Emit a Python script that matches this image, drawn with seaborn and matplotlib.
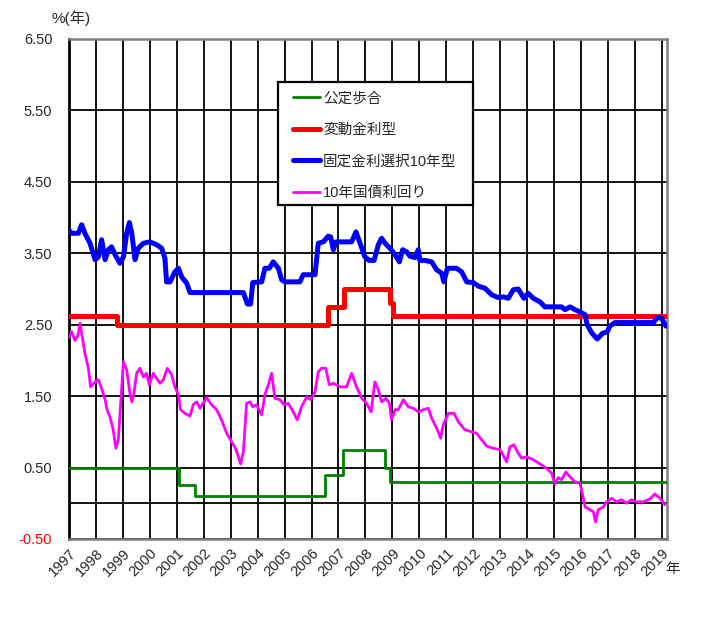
import matplotlib
matplotlib.use("Agg")
import matplotlib.pyplot as plt
from matplotlib.patches import Rectangle
import seaborn as sns
import pandas as pd

# ---------------- data ----------------
years = list(range(1997, 2020))
year_labels = [str(y) for y in years]
ytick_values = [-0.5, 0.5, 1.5, 2.5, 3.5, 4.5, 5.5, 6.5]
ytick_labels = ["-0.50", "0.50", "1.50", "2.50", "3.50", "4.50", "5.50", "6.50"]

# 公定歩合 (step changes)
discount_x = [1997.0, 2001.08, 2001.68, 2006.50, 2007.17, 2008.72, 2008.92, 2019.18]
discount_y = [0.50, 0.25, 0.10, 0.40, 0.75, 0.50, 0.30, 0.30]

# 変動金利型 (step changes)
variable_x = [1997.0, 1998.78, 2006.60, 2007.22, 2008.92, 2009.02, 2019.18]
variable_y = [2.625, 2.50, 2.75, 3.00, 2.80, 2.625, 2.625]

# 固定金利選択10年型
fixed_x = [1997.0, 1997.10, 1997.22, 1997.35, 1997.47, 1997.59, 1997.78, 1997.97, 1998.09,
           1998.21, 1998.34, 1998.46, 1998.58, 1998.71, 1998.89, 1999.02, 1999.14, 1999.24,
           1999.33, 1999.45, 1999.57, 1999.76, 2000.00, 2000.25, 2000.44, 2000.56, 2000.62,
           2000.75, 2000.93, 2001.06, 2001.18, 2001.37, 2001.49, 2003.47, 2003.62, 2003.74,
           2003.82, 2004.15, 2004.27, 2004.43, 2004.58, 2004.77, 2004.89, 2005.01, 2005.57,
           2005.69, 2006.13, 2006.25, 2006.44, 2006.62, 2006.71, 2006.81, 2006.91, 2007.49,
           2007.65, 2007.80, 2007.98, 2008.14, 2008.32, 2008.48, 2008.60, 2008.73, 2008.91,
           2009.10, 2009.26, 2009.38, 2009.53, 2009.65, 2009.84, 2009.96, 2010.02, 2010.21,
           2010.46, 2010.64, 2010.83, 2010.91, 2011.04, 2011.38, 2011.57, 2011.76, 2012.00,
           2012.19, 2012.44, 2012.68, 2012.93, 2013.12, 2013.30, 2013.49, 2013.67, 2013.88,
           2014.04, 2014.23, 2014.48, 2014.66, 2015.28, 2015.41, 2015.59, 2015.78, 2015.96,
           2016.15, 2016.23, 2016.39, 2016.60, 2016.80, 2016.97, 2017.07, 2017.26, 2018.68,
           2018.83, 2018.99, 2019.15]
fixed_y = [3.82, 3.78, 3.78, 3.78, 3.90, 3.78, 3.64, 3.41, 3.45,
           3.69, 3.41, 3.55, 3.59, 3.48, 3.36, 3.45, 3.78, 3.93,
           3.78, 3.41, 3.57, 3.64, 3.66, 3.62, 3.57, 3.43, 3.10,
           3.10, 3.24, 3.29, 3.17, 3.08, 2.95, 2.95, 2.79, 2.79,
           3.09, 3.10, 3.29, 3.29, 3.38, 3.29, 3.13, 3.10, 3.10,
           3.20, 3.20, 3.64, 3.66, 3.74, 3.73, 3.55, 3.66, 3.66,
           3.80, 3.64, 3.45, 3.40, 3.40, 3.62, 3.71, 3.64, 3.57,
           3.48, 3.38, 3.55, 3.52, 3.46, 3.44, 3.55, 3.40, 3.40,
           3.38, 3.27, 3.22, 3.10, 3.29, 3.29, 3.24, 3.10, 3.09,
           3.04, 3.01, 2.92, 2.88, 2.89, 2.87, 2.99, 3.00, 2.87,
           2.94, 2.87, 2.82, 2.75, 2.75, 2.71, 2.75, 2.71, 2.68,
           2.64, 2.50, 2.39, 2.30, 2.38, 2.40, 2.48, 2.53, 2.53,
           2.60, 2.59, 2.48]

# 10年国債利回り
jgb_x = [1997.0, 1997.10, 1997.22, 1997.33, 1997.41, 1997.47, 1997.59, 1997.72, 1997.80,
         1997.97, 1998.09, 1998.21, 1998.34, 1998.42, 1998.52, 1998.64, 1998.74, 1998.83,
         1998.92, 1999.02, 1999.14, 1999.26, 1999.33, 1999.41, 1999.51, 1999.63, 1999.76,
         1999.88, 1999.98, 2000.13, 2000.25, 2000.38, 2000.50, 2000.65, 2000.81, 2000.93,
         2001.06, 2001.14, 2001.30, 2001.49, 2001.61, 2001.74, 2001.86, 2002.11, 2002.29,
         2002.48, 2002.66, 2002.85, 2003.04, 2003.20, 2003.37, 2003.47, 2003.59, 2003.72,
         2003.82, 2003.96, 2004.15, 2004.27, 2004.40, 2004.52, 2004.64, 2004.83, 2004.98,
         2005.14, 2005.32, 2005.47, 2005.63, 2005.82, 2005.97, 2006.13, 2006.25, 2006.37,
         2006.53, 2006.66, 2006.81, 2007.06, 2007.30, 2007.49, 2007.67, 2007.86, 2008.04,
         2008.21, 2008.35, 2008.48, 2008.60, 2008.76, 2008.89, 2008.97, 2009.10, 2009.22,
         2009.41, 2009.59, 2009.78, 2009.96, 2010.15, 2010.33, 2010.46, 2010.67, 2010.79,
         2010.89, 2011.08, 2011.29, 2011.45, 2011.69, 2011.94, 2012.13, 2012.31, 2012.50,
         2012.75, 2013.00, 2013.14, 2013.24, 2013.36, 2013.51, 2013.67, 2013.80, 2013.98,
         2014.23, 2014.48, 2014.72, 2014.91, 2015.03, 2015.16, 2015.28, 2015.44, 2015.59,
         2015.78, 2015.96, 2016.06, 2016.15, 2016.33, 2016.46, 2016.54, 2016.64, 2016.83,
         2016.95, 2017.14, 2017.32, 2017.51, 2017.69, 2017.88, 2018.06, 2018.31, 2018.56,
         2018.74, 2018.93, 2019.11]
jgb_y = [2.32, 2.40, 2.28, 2.35, 2.52, 2.38, 2.10, 1.89, 1.63,
         1.70, 1.73, 1.61, 1.45, 1.30, 1.21, 1.03, 0.77, 0.89,
         1.40, 1.98, 1.87, 1.54, 1.42, 1.54, 1.82, 1.89, 1.77,
         1.82, 1.66, 1.82, 1.75, 1.68, 1.73, 1.89, 1.80, 1.63,
         1.52, 1.31, 1.26, 1.22, 1.38, 1.42, 1.33, 1.48, 1.38,
         1.31, 1.17, 0.98, 0.86, 0.75, 0.55, 0.72, 1.40, 1.42,
         1.35, 1.38, 1.24, 1.52, 1.66, 1.82, 1.47, 1.45, 1.38,
         1.40, 1.28, 1.17, 1.35, 1.49, 1.45, 1.56, 1.84, 1.89,
         1.89, 1.66, 1.68, 1.63, 1.63, 1.82, 1.63, 1.47, 1.40,
         1.28, 1.70, 1.59, 1.42, 1.47, 1.40, 1.17, 1.31, 1.31,
         1.45, 1.35, 1.33, 1.28, 1.31, 1.33, 1.19, 1.03, 0.91,
         1.10, 1.26, 1.26, 1.14, 1.03, 1.00, 0.98, 0.89, 0.80,
         0.77, 0.75, 0.65, 0.58, 0.79, 0.82, 0.70, 0.63, 0.65,
         0.61, 0.55, 0.49, 0.42, 0.27, 0.36, 0.33, 0.44, 0.37,
         0.30, 0.28, 0.12, -0.05, -0.09, -0.12, -0.26, -0.09, -0.05,
         0.02, 0.07, 0.02, 0.05, 0.00, 0.05, 0.02, 0.02, 0.06,
         0.13, 0.07, -0.02]

series_names = ["公定歩合", "変動金利型", "固定金利選択10年型", "10年国債利回り"]
series_colors = ["#008000", "#FF0000", "#0000FF", "#FF00FF"]

# ---------------- style ----------------
sns.set_style("white")
plt.rcParams["font.family"] = ["Liberation Sans", "Noto Sans CJK JP"]

W, H = 707, 624
fig = plt.figure(figsize=(W / 100, H / 100), dpi=100)
ax = fig.add_axes([69 / W, 1 - 539 / H, (666.7 - 69) / W, 500 / H])

df_disc = pd.DataFrame({"x": discount_x, "y": discount_y})
df_var = pd.DataFrame({"x": variable_x, "y": variable_y})
df_fix = pd.DataFrame({"x": fixed_x, "y": fixed_y})
df_jgb = pd.DataFrame({"x": jgb_x, "y": jgb_y})

sns.lineplot(data=df_disc, x="x", y="y", ax=ax, color=series_colors[0], lw=2.0,
             drawstyle="steps-post", estimator=None, label=series_names[0], zorder=3)
sns.lineplot(data=df_var, x="x", y="y", ax=ax, color=series_colors[1], lw=3.6,
             drawstyle="steps-post", estimator=None, label=series_names[1], zorder=3)
sns.lineplot(data=df_fix, x="x", y="y", ax=ax, color=series_colors[2], lw=3.6,
             estimator=None, label=series_names[2], zorder=4)
sns.lineplot(data=df_jgb, x="x", y="y", ax=ax, color=series_colors[3], lw=2.0,
             estimator=None, label=series_names[3], zorder=4)

ax.set_xlim(1997, 2019.18)
ax.set_ylim(-0.5, 6.5)
ax.set_xlabel("")
ax.set_ylabel("")

ax.set_xticks(years)
ax.set_xticklabels(year_labels, rotation=45, ha="right", va="top",
                   rotation_mode="anchor", fontsize=10.5)
ax.set_yticks(ytick_values)
ax.set_yticklabels(ytick_labels, fontsize=10.5)
for lbl in ax.get_yticklabels():
    if lbl.get_text().startswith("-"):
        lbl.set_color("#FF0000")
ax.tick_params(axis="both", length=0)
ax.tick_params(axis="y", pad=12)
ax.tick_params(axis="x", pad=5)

ax.grid(True, color="black", lw=1.3)
ax.set_axisbelow(True)
ax.axhline(0, color="black", lw=1.3, zorder=0.6)

for side in ["top", "right", "bottom"]:
    ax.spines[side].set_color("#808080")
    ax.spines[side].set_linewidth(1.8)
ax.spines["left"].set_color("black")
ax.spines["left"].set_linewidth(2.0)

# legend box
box = Rectangle((278 / W, 1 - 205 / H), 195 / W, 123 / H, transform=fig.transFigure,
                facecolor="white", edgecolor="black", lw=1.6, zorder=9, clip_on=False)
ax.add_patch(box)
leg = ax.legend(loc="upper left", bbox_to_anchor=(278 / W, 1 - 77 / H),
                bbox_transform=fig.transFigure, borderaxespad=0, frameon=False,
                fontsize=10.5, handlelength=1.9, handletextpad=0.2,
                labelspacing=1.2, borderpad=1.0)
leg.set_zorder(10)

fig.text(71 / W, 1 - 18 / H, "%(年)", ha="center", va="center", fontsize=11)
fig.text(673 / W, 1 - 569 / H, "年", ha="center", va="center", fontsize=10.5)

fig.savefig("out.png", dpi=100)
